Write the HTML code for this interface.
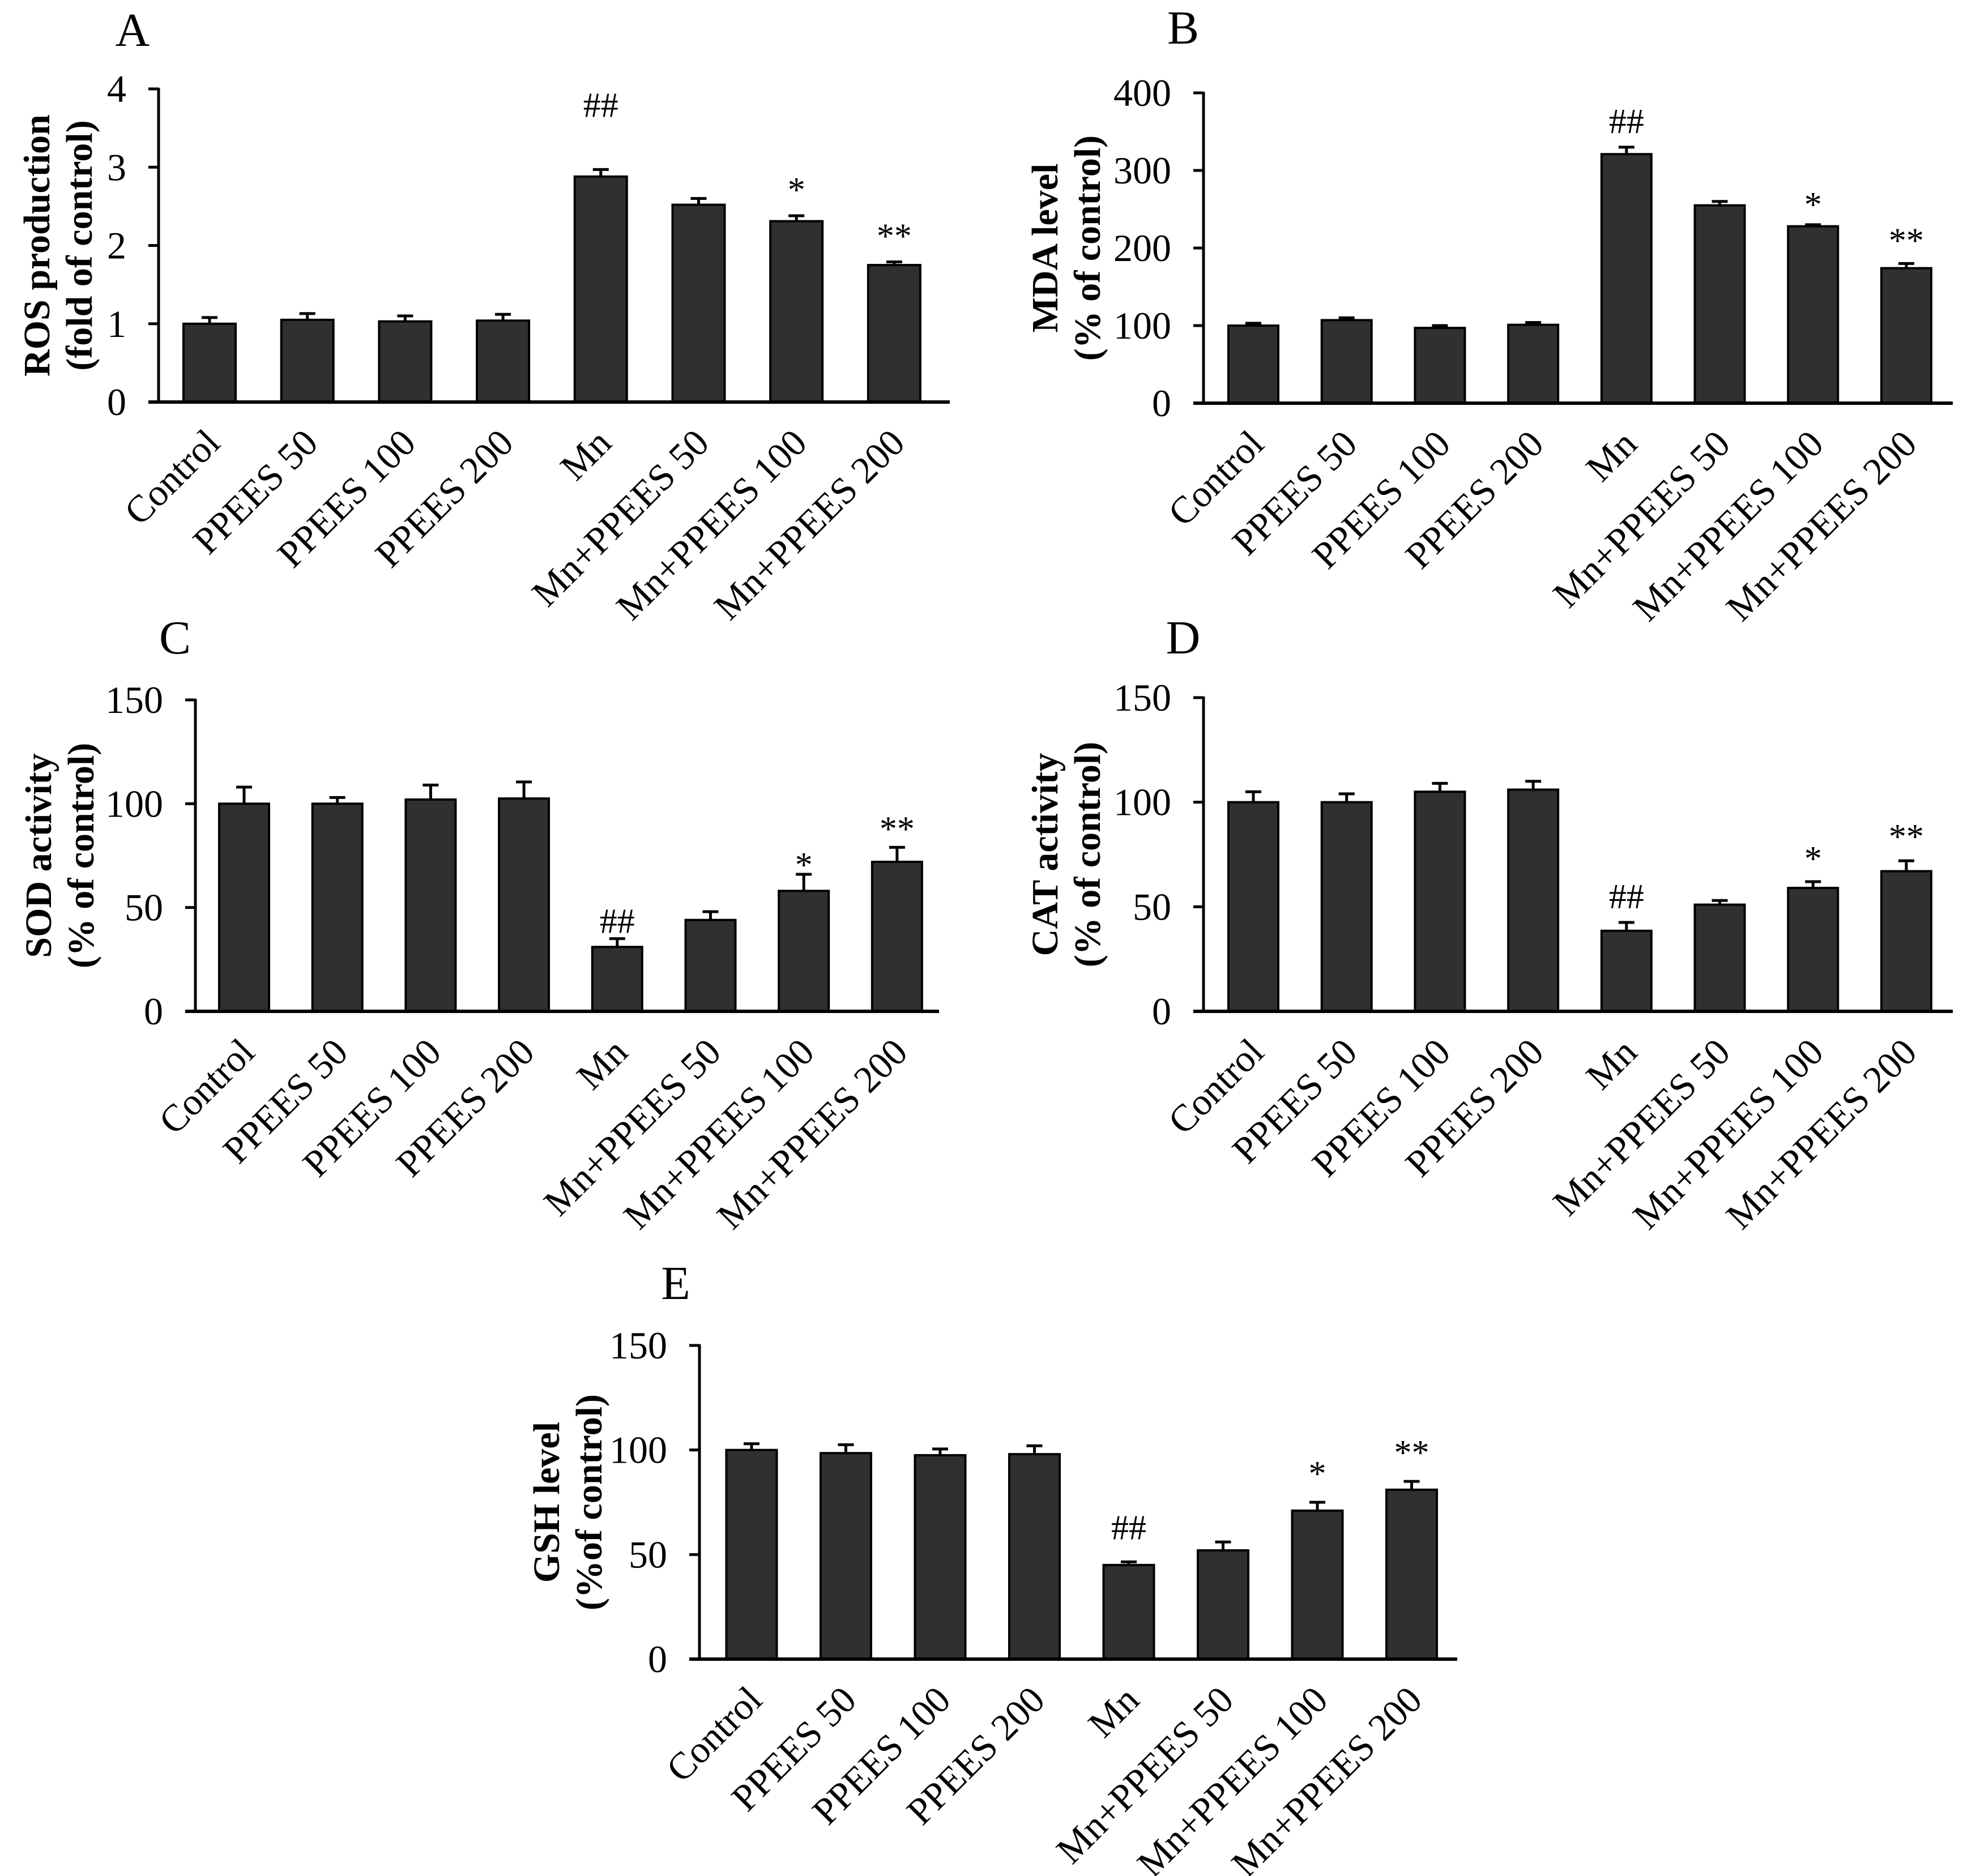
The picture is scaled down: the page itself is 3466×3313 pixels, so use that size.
<!DOCTYPE html>
<html><head><meta charset="utf-8"><style>
html,body{margin:0;padding:0;background:#fff}
svg{display:block}
text{font-family:"Liberation Serif","Times New Roman",serif;fill:#000}
</style></head><body>
<svg id="fig" xmlns="http://www.w3.org/2000/svg" width="3466" height="3313" viewBox="0 0 3466 3313"></svg>
<script>
const categories = ["Control","PPEES 50","PPEES 100","PPEES 200","Mn","Mn+PPEES 50","Mn+PPEES 100","Mn+PPEES 200"];
const rosValues = [1.0,1.05,1.03,1.04,2.88,2.52,2.31,1.75];
const rosErrors = [0.08,0.08,0.07,0.08,0.09,0.08,0.07,0.04];
const mdaValues = [100,107,97,101,321,255,228,174];
const mdaErrors = [3,3,3,3,9,5,2,6];
const sodValues = [100,100,102,102.5,31,44,58,72];
const sodErrors = [8,3,7,8,4,4,8,7];
const catValues = [100,100,105,106,38.5,51,59,67];
const catErrors = [5,4,4,4,4,2,3,5];
const gshValues = [100,98.5,97.5,98,45,52,71,81];
const gshErrors = [3,4,3,4,1.5,4,4,4];
const marks = ["","","","","##","","*","**"];
const rosTicks = [0,1,2,3,4];
const mdaTicks = [0,100,200,300,400];
const pctTicks = [0,50,100,150];

const NS="http://www.w3.org/2000/svg";
const svg=document.getElementById('fig');
function mk(tag,attrs,parent,txt){const e=document.createElementNS(NS,tag);for(const k in attrs)e.setAttribute(k,attrs[k]);if(txt!==undefined)e.textContent=txt;(parent||svg).appendChild(e);return e;}

const panels=[
 {id:'a',letter:'A',lx:234,ly:81,ax:280,x0:370,step:172.7,bw:92,xend:1677,y0:710,y1:157,max:4,ticks:rosTicks,vals:rosValues,errs:rosErrors,t1:'ROS production',t2:'(fold of control)',tx1:-193,tx2:-118,mo:[0,0,0,0,-93,0,-25,-25]},
 {id:'b',letter:'B',lx:2089,ly:77,ax:2125,x0:2213,step:164.7,bw:88,xend:3448,y0:712,y1:164,max:400,ticks:mdaTicks,vals:mdaValues,errs:mdaErrors,t1:'MDA level',t2:'(% of control)',tx1:-258,tx2:-183,mo:[0,0,0,0,-25,0,-15,-20]},
 {id:'c',letter:'C',lx:309,ly:1154,ax:345,x0:431,step:164.7,bw:88,xend:1658,y0:1786,y1:1236,max:150,ticks:pctTicks,vals:sodValues,errs:sodErrors,t1:'SOD activity',t2:'(% of control)',tx1:-255,tx2:-180,mo:[0,0,0,0,-10,0,4,-12]},
 {id:'d',letter:'D',lx:2089,ly:1154,ax:2125,x0:2213,step:164.7,bw:88,xend:3448,y0:1786,y1:1232,max:150,ticks:pctTicks,vals:catValues,errs:catErrors,t1:'CAT activity',t2:'(% of control)',tx1:-258,tx2:-183,mo:[0,0,0,0,-25,0,-20,-22]},
 {id:'e',letter:'E',lx:1193,ly:2294,ax:1235,x0:1327,step:166.5,bw:89,xend:2573,y0:2930,y1:2376,max:150,ticks:pctTicks,vals:gshValues,errs:gshErrors,t1:'GSH level',t2:'(%of control)',tx1:-248,tx2:-173,mo:[0,0,0,0,-40,0,-30,-30]}
];

panels.forEach(p=>{
  const g=mk('g',{});
  
  
  const yS=v=>p.y0-(v/p.max)*(p.y0-p.y1);
  const xS=i=>p.x0+i*p.step;
  const L=mk('text',{x:p.lx,y:p.ly,'font-size':84,'text-anchor':'middle'},g,p.letter);
  
  
  p.vals.forEach((v,i)=>{
    const cx=xS(i), top=yS(v), et=yS(v+p.errs[i]);
    const eb=mk('path',{d:`M${cx} ${top}V${et}M${cx-14} ${et}H${cx+14}`,stroke:'#000','stroke-width':5,fill:'none'},g);
    
    
    const r=mk('rect',{x:cx-p.bw/2,y:top,width:p.bw,height:p.y0-top,fill:'#303030',stroke:'#000','stroke-width':4},g);
    
    
    if(marks[i]){
      const m=mk('text',{x:cx,y:et+p.mo[i],'font-size':62,'text-anchor':'middle'},g,marks[i]);
      
      
    }
    const ax=cx+22, ay=p.y0+76;
    const c=mk('text',{x:ax,y:ay,'font-size':67,'text-anchor':'end',transform:`rotate(-45 ${ax} ${ay})`},g,categories[i]);
    
    
  });
  const ya=mk('line',{x1:p.ax,y1:p.y1-2,x2:p.ax,y2:p.y0,stroke:'#000','stroke-width':5},g);
  
  
  const xa=mk('line',{x1:p.ax-18,y1:p.y0,x2:p.xend,y2:p.y0,stroke:'#000','stroke-width':6},g);
  
  
  p.ticks.forEach(t=>{
    const y=yS(t);
    const tk=mk('line',{x1:p.ax-18,y1:y,x2:p.ax,y2:y,stroke:'#000','stroke-width':5},g);
    
    
    const tl=mk('text',{x:p.ax-57,y:y+23,'font-size':68,'text-anchor':'end'},g,String(t));
    
    
  });
  const cy=(p.y0+p.y1)/2;
  const a1=mk('text',{x:p.ax+p.tx1,y:cy,'font-size':66,'font-weight':'bold','text-anchor':'middle',transform:`rotate(-90 ${p.ax+p.tx1} ${cy})`},g,p.t1);
  
  
  const a2=mk('text',{x:p.ax+p.tx2,y:cy,'font-size':66,'font-weight':'bold','text-anchor':'middle',transform:`rotate(-90 ${p.ax+p.tx2} ${cy})`},g,p.t2);
  
  
});
</script>
</body></html>
